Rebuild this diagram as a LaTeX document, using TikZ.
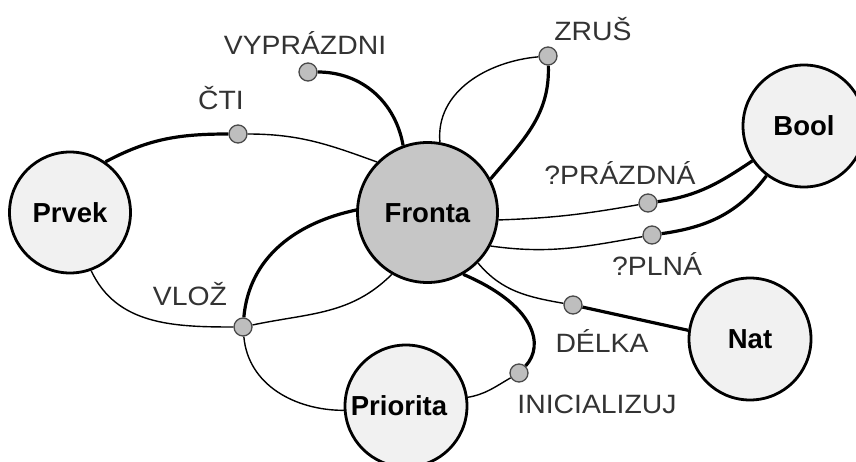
\documentclass[tikz,border=0pt]{standalone}
\usepackage{fontspec}
\setmainfont{Liberation Sans}
\newfontfamily\labfont[FakeStretch=1.07]{Liberation Sans}
\usetikzlibrary{backgrounds}
\definecolor{fronta}{HTML}{C6C6C6}
\definecolor{typfill}{HTML}{F1F1F1}
\definecolor{dotfill}{HTML}{BEBEBE}
\definecolor{dotline}{HTML}{4A4A4A}
\definecolor{labtext}{HTML}{333333}
\begin{document}
\begin{tikzpicture}[x=1pt,y=-1pt,
  typ/.style={circle,draw=black,line width=2.8pt,fill=typfill,inner sep=0pt,
    font=\fontsize{27.5}{30}\selectfont\bfseries,text height=19.5pt,text depth=0pt},
  opdot/.style={circle,draw=dotline,line width=1.3pt,fill=dotfill,inner sep=0pt,minimum size=18pt},
  lab/.style={inner sep=0pt,text=labtext,font=\labfont\fontsize{26.5}{30}\selectfont,
    text height=19pt,text depth=0pt},
  inp/.style={line width=1.4pt},
  outp/.style={line width=3.2pt}]
\useasboundingbox (0,0) rectangle (856,462);
% type nodes
\node[typ,fill=fronta,minimum size=140pt] (F) at (427.5,212.5) {Fronta};
\node[typ,minimum size=121pt] (P) at (70,212.5) {Prvek};
\node[typ,minimum size=122pt] (B) at (804,126) {Bool};
\node[typ,minimum size=122pt] (N) at (750,339) {Nat};
\node[typ,minimum size=122pt] (Pr) at (406,406) {\hspace*{-14pt}Priorita};
% operation dots
\node[opdot] (c1) at (238,134) {};
\node[opdot] (v)  at (308,72) {};
\node[opdot] (z)  at (548,56) {};
\node[opdot] (pz) at (648,203) {};
\node[opdot] (pl) at (652,235) {};
\node[opdot] (d)  at (573,305) {};
\node[opdot] (i)  at (519,373) {};
\node[opdot] (w)  at (243,327) {};
% labels
\node[lab] (lc1) at (221,100) {ČTI};
\node[lab] (lv)  at (305,45) {VYPRÁZDNI};
\node[lab] (lz)  at (593,31) {ZRUŠ};
\node[lab] (lpz) at (620,175) {?PRÁZDNÁ};
\node[lab] (lpl) at (657,266) {?PLNÁ};
\node[lab] (ld)  at (602,343) {DÉLKA};
\node[lab] (li)  at (597,404) {INICIALIZUJ};
\node[lab] (lw)  at (190,296) {VLOŽ};
% connectors, behind the nodes
\begin{scope}[on background layer]
% ČTI
\draw[outp] (P.55) to[out=28,in=180] (c1);
\draw[inp] (c1) to[out=0,in=160] (F.135);
% VYPRÁZDNI
\draw[outp] (v) to[out=0,in=100] (F.110);
% ZRUŠ
\draw[inp] (F.80) to[out=95,in=185] (z);
\draw[outp] (z) to[out=-88,in=50] (F.28);
% ?PRÁZDNÁ
\draw[inp] (F.-6) to[out=2,in=190] (pz);
\draw[outp] (pz) to[out=8,in=214] (B.214);
% ?PLNÁ
\draw[inp] (F.-28) to[out=-8,in=190] (pl);
\draw[outp] (pl) to[out=8,in=233] (B.233);
% DÉLKA
\draw[inp] (F.-45) to[out=-50,in=170] (d);
\draw[outp] (d) -- (N.172);
% INICIALIZUJ
\draw[outp] (F.-60) .. controls (535,305) and (545,345) .. (i);
\draw[inp] (i) to[out=210,in=10] (Pr.8);
% VLOŽ
\draw[outp] (F.178) to[out=192,in=85] (w);
\draw[inp] (P.-70) to[out=-65,in=180] (w);
\draw[inp] (F.240) to[out=225,in=12] (w);
\draw[inp] (w) to[out=-85,in=180] (Pr.184);
\end{scope}
\end{tikzpicture}
\end{document}
